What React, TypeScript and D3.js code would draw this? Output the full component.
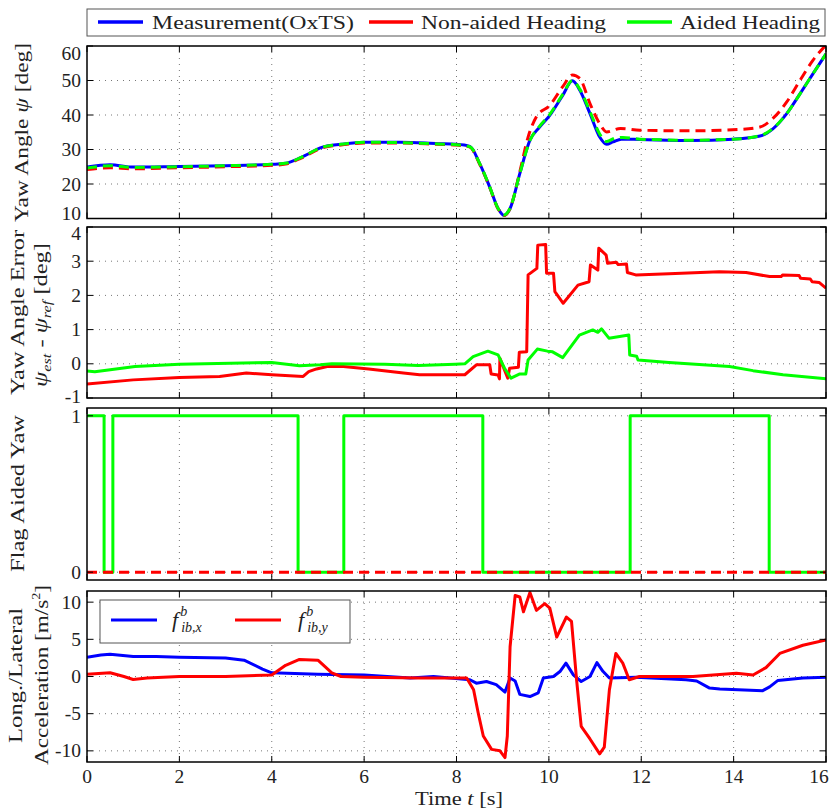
import React from 'react';
import * as d3 from 'd3';

type P = [number, number];

// ---------- data ----------
const X_TICKS = [0, 2, 4, 6, 8, 10, 12, 14, 16];
const YAW_TICKS = [10, 20, 30, 40, 50, 60];
const ERR_TICKS = [-1, 0, 1, 2, 3, 4];
const FLAG_TICKS = [0, 1];
const ACC_TICKS = [-10, -5, 0, 5, 10];

const yawMeas: P[] = [[0,24.9],[0.5,25.6],[1,24.9],[2,25.1],[3,25.3],[4,25.7],[4.3,26],[4.65,27.8],[5.1,30.7],[5.5,31.5],[6,32.1],[6.8,32.1],[7.6,31.7],[8,31.5],[8.29,30.9],[8.5,26],[8.72,19.1],[8.9,12.9],[9.03,10.9],[9.16,12.9],[9.37,23],[9.59,32.7],[9.8,36.5],[10.02,39.9],[10.3,45.7],[10.51,49.9],[10.67,47.2],[10.89,40.4],[11.1,33.6],[11.25,31.5],[11.39,32.2],[11.57,33],[11.97,32.9],[13.05,32.6],[14,33],[14.57,33.9],[14.85,36],[15.15,40.4],[15.44,46.2],[15.72,52],[16,57.7]];
const yawNonAided: P[] = [[0,24.2],[0.5,24.7],[1,24.4],[2,24.7],[3,25],[4,25.4],[4.3,25.8],[4.65,27.6],[5.1,30.5],[5.5,31.3],[6,31.9],[6.8,31.9],[7.6,31.5],[8,31.3],[8.29,30.7],[8.5,25.8],[8.72,19],[8.9,12.8],[9.03,10.9],[9.16,12.9],[9.37,23.5],[9.55,33.6],[9.73,39.5],[10.02,42.8],[10.3,48.2],[10.51,51.6],[10.67,50.6],[10.89,43.3],[11.1,37.5],[11.25,35.1],[11.55,36.1],[11.97,35.6],[13.05,35.4],[14.13,35.8],[14.57,36.5],[14.85,39],[15.15,43.8],[15.44,50.1],[15.72,55.9],[16,60.3]];
const yawAided: P[] = [[0,24.6],[0.5,25.3],[1,24.8],[2,25],[3,25.3],[4,25.7],[4.3,26],[4.65,27.8],[5.1,30.7],[5.5,31.5],[6,32.1],[6.8,32],[7.6,31.6],[8,31.4],[8.29,30.8],[8.5,26],[8.72,19.1],[8.9,12.9],[9.03,11],[9.16,13],[9.37,23],[9.59,32.6],[9.8,36.8],[10.02,40.2],[10.3,46],[10.51,50],[10.67,47.5],[10.89,41],[11.1,34.5],[11.25,32.3],[11.45,33.4],[11.6,33.5],[11.97,33],[13.05,32.7],[14,33],[14.57,34],[14.85,36.1],[15.15,40.4],[15.44,46.2],[15.72,52],[16,57.7]];

const errNonAided: P[] = [[0,-0.59],[1,-0.47],[2,-0.4],[2.87,-0.37],[3.45,-0.27],[4,-0.32],[4.68,-0.37],[4.8,-0.23],[4.97,-0.15],[5.2,-0.08],[5.55,-0.08],[6.1,-0.15],[6.85,-0.27],[7.2,-0.32],[8.18,-0.32],[8.43,-0.03],[8.72,-0.03],[8.75,-0.3],[8.9,-0.33],[8.93,-0.44],[8.94,0.16],[9.11,-0.42],[9.15,-0.13],[9.34,-0.1],[9.36,0.34],[9.52,0.35],[9.55,2.6],[9.74,2.79],[9.76,3.47],[9.93,3.49],[9.95,2.65],[10.1,2.65],[10.13,2.11],[10.31,1.77],[10.63,2.3],[10.87,2.4],[10.9,2.89],[11.06,2.74],[11.08,3.38],[11.24,3.18],[11.27,2.94],[11.46,2.97],[11.5,2.9],[11.68,2.92],[11.7,2.67],[11.88,2.6],[12.6,2.63],[13.69,2.69],[14.27,2.67],[14.78,2.55],[15.03,2.55],[15.06,2.6],[15.42,2.58],[15.45,2.5],[15.66,2.48],[15.7,2.4],[15.85,2.38],[16,2.21]];
const errAided: P[] = [[0,-0.21],[0.17,-0.23],[1.04,-0.08],[2,-0.01],[4,0.04],[4.6,-0.06],[5.05,-0.03],[5.3,0],[6.45,-0.01],[7.17,-0.05],[7.97,-0.01],[8.18,0],[8.36,0.21],[8.68,0.37],[8.9,0.26],[9.04,-0.13],[9.18,-0.42],[9.36,-0.3],[9.5,-0.3],[9.55,0.11],[9.75,0.43],[9.97,0.37],[10.08,0.35],[10.3,0.18],[10.66,0.84],[10.95,0.99],[11.06,0.92],[11.14,1.02],[11.3,0.75],[11.73,0.84],[11.75,0.26],[11.9,0.22],[11.93,0.11],[12.6,0.04],[13.91,-0.08],[14.42,-0.2],[15.07,-0.32],[16,-0.44]];

const flagAided: P[] = [[0,1],[0.37,0],[0.56,1],[4.57,0],[5.56,1],[8.57,0],[11.76,1],[14.77,0],[16,0]];
const flagNonAided: P[] = [[0,0],[16,0]];

const accX: P[] = [[0,2.6],[0.3,2.9],[0.5,3],[1,2.7],[1.5,2.7],[2,2.6],[3,2.5],[3.4,2.2],[3.8,1.0],[4.0,0.5],[5,0.3],[6,0.2],[7,-0.2],[7.5,0],[8.29,-0.44],[8.43,-0.9],[8.65,-0.67],[8.86,-1.1],[9.05,-2.1],[9.16,-0.2],[9.27,-0.6],[9.37,-2.4],[9.59,-2.7],[9.77,-2.2],[9.88,-0.2],[10.1,0],[10.24,0.67],[10.37,1.8],[10.53,0.22],[10.7,-0.67],[10.89,0],[11.04,1.87],[11.17,0.7],[11.31,-0.2],[11.89,-0.1],[12.97,-0.44],[13.2,-0.6],[13.48,-1.56],[13.7,-1.69],[14.63,-1.9],[14.78,-1.4],[14.96,-0.53],[15.5,-0.2],[16,-0.1]];
const accY: P[] = [[0,0.3],[0.5,0.5],[0.8,0],[1,-0.4],[1.3,-0.2],[2,0],[3,0],[4,0.2],[4.3,1.5],[4.6,2.3],[5.0,2.2],[5.3,0.5],[5.5,0],[6,-0.1],[7.21,-0.2],[8.22,-0.2],[8.37,-1.78],[8.47,-4.9],[8.58,-8],[8.76,-9.8],[8.94,-10],[9.05,-10.9],[9.1,-8],[9.16,4],[9.27,10.9],[9.37,10.7],[9.45,8.7],[9.59,11.3],[9.73,8.9],[9.91,9.8],[10.02,9.2],[10.17,5.3],[10.38,8],[10.49,7.4],[10.6,-0.44],[10.7,-6.7],[10.89,-8.4],[11.1,-10.4],[11.2,-9.5],[11.31,-1.8],[11.45,3.1],[11.6,1.8],[11.74,-0.44],[11.96,0],[13.12,0],[14.06,0.44],[14.42,0.2],[14.7,1.2],[15,3.1],[15.5,4.2],[16,4.9]];

// ---------- layout ----------
const W = 829, H = 811;
const PL = 87, PR = 826;
const FONT = "'Liberation Serif', 'Times New Roman', serif";
const FS = 19.5;
const BLUE = '#0000ff', RED = '#ff0000', GREEN = '#00ff00';

type Series = { data: P[]; color: string; dash?: string; width?: number };
type PanelCfg = {
  id: string; top: number; bottom: number; domain: [number, number]; ticks: number[];
  nudge: Record<number, number>; curve: d3.CurveFactory; series: Series[];
};

export default function App() {
  const x = d3.scaleLinear().domain([0, 16]).range([PL, PR]);

  const panels: PanelCfg[] = [
    { id: 'p1', top: 46, bottom: 218.5, domain: [10, 60], ticks: YAW_TICKS, nudge: { 60: 7, 10: -5 }, curve: d3.curveMonotoneX,
      series: [
        { data: yawMeas, color: BLUE },
        { data: yawNonAided, color: RED, dash: '10,6' },
        { data: yawAided, color: GREEN, dash: '10,6' },
      ] },
    { id: 'p2', top: 227, bottom: 398, domain: [-1, 4], ticks: ERR_TICKS, nudge: { 4: 6, [-1]: -2 }, curve: d3.curveLinear,
      series: [
        { data: errNonAided, color: RED },
        { data: errAided, color: GREEN },
      ] },
    { id: 'p3', top: 408, bottom: 580, domain: [-0.05, 1.05], ticks: FLAG_TICKS, nudge: { 1: 1 }, curve: d3.curveStepAfter,
      series: [
        { data: flagAided, color: GREEN },
        { data: flagNonAided, color: RED, dash: '10,6' },
      ] },
    { id: 'p4', top: 591, bottom: 762, domain: [-11.5, 11.5], ticks: ACC_TICKS, nudge: {}, curve: d3.curveLinear,
      series: [
        { data: accX, color: BLUE },
        { data: accY, color: RED },
      ] },
  ];

  const tickLen = 6;

  return (
    <svg width={W} height={H} style={{ position: 'absolute', left: 0, top: 0 }} fontFamily={FONT}>
      <rect x={0} y={0} width={W} height={H} fill="#fff" />
      <defs>
        {panels.map(p => (
          <clipPath id={`clip-${p.id}`} key={p.id}>
            <rect x={PL} y={p.top} width={PR - PL} height={p.bottom - p.top} />
          </clipPath>
        ))}
      </defs>

      {panels.map(p => {
        const y = d3.scaleLinear().domain(p.domain).range([p.bottom, p.top]);
        const line = d3.line<P>().x(d => x(d[0])).y(d => y(d[1])).curve(p.curve);
        return (
          <g key={p.id}>
            <g stroke="#777" strokeWidth={1} strokeDasharray="1,5">
              {X_TICKS.filter(t => t > 0 && t < 16).map(t => (
                <line key={'gx' + t} x1={x(t)} x2={x(t)} y1={p.top} y2={p.bottom} />
              ))}
              {p.ticks.filter(t => Math.abs(y(t) - p.top) > 1 && Math.abs(y(t) - p.bottom) > 1).map(t => (
                <line key={'gy' + t} x1={PL} x2={PR} y1={y(t)} y2={y(t)} />
              ))}
            </g>
            <g clipPath={`url(#clip-${p.id})`} fill="none" strokeLinejoin="round">
              {p.series.map((s, i) => (
                <path key={i} d={line(s.data) || ''} stroke={s.color} strokeWidth={s.width ?? 3}
                  strokeDasharray={s.dash} />
              ))}
            </g>
            <rect x={PL} y={p.top} width={PR - PL} height={p.bottom - p.top} fill="none" stroke="#000" strokeWidth={1.5} />
            <g stroke="#000" strokeWidth={1}>
              {X_TICKS.map(t => (
                <g key={'tx' + t}>
                  <line x1={x(t)} x2={x(t)} y1={p.top} y2={p.top + tickLen} />
                  <line x1={x(t)} x2={x(t)} y1={p.bottom} y2={p.bottom - tickLen} />
                </g>
              ))}
              {p.ticks.map(t => (
                <g key={'ty' + t}>
                  <line x1={PL} x2={PL + tickLen} y1={y(t)} y2={y(t)} />
                  <line x1={PR} x2={PR - tickLen} y1={y(t)} y2={y(t)} />
                </g>
              ))}
            </g>
            <g fontSize={FS} fill="#222" textAnchor="end">
              {p.ticks.map(t => (
                <text key={'yl' + t} x={81} y={y(t) + 6.5 + (p.nudge[t] ?? 0)}>{String(t)}</text>
              ))}
            </g>
          </g>
        );
      })}

      <g fontSize={FS} fill="#222" textAnchor="middle">
        {X_TICKS.map(t => (
          <text key={'xl' + t} x={t === 16 ? x(t) - 7 : x(t)} y={783}>{String(t)}</text>
        ))}
      </g>
      <text x={459} y={805} fontSize={FS} fill="#222" textAnchor="middle" textLength={88} lengthAdjust="spacingAndGlyphs">
        Time <tspan fontStyle="italic">t</tspan> [s]
      </text>

      <g fontSize={FS} fill="#222" textAnchor="middle">
        <text transform="translate(28,132.5) rotate(-90)" textLength={179} lengthAdjust="spacingAndGlyphs">
          Yaw Angle <tspan fontStyle="italic">ψ</tspan> [deg]
        </text>
        <text transform="translate(23.5,312.5) rotate(-90)" textLength={165} lengthAdjust="spacingAndGlyphs">
          Yaw Angle Error
        </text>
        <text transform="translate(47,315) rotate(-90)" textLength={144} lengthAdjust="spacingAndGlyphs">
          <tspan fontStyle="italic">ψ</tspan>
          <tspan fontStyle="italic" fontSize={13} dy={4}>est</tspan>
          <tspan dy={-4}> - </tspan>
          <tspan fontStyle="italic">ψ</tspan>
          <tspan fontStyle="italic" fontSize={13} dy={4}>ref</tspan>
          <tspan dy={-4}> [deg]</tspan>
        </text>
        <text transform="translate(23.5,493.5) rotate(-90)" textLength={157} lengthAdjust="spacingAndGlyphs">
          Flag Aided Yaw
        </text>
        <text transform="translate(21.5,675.5) rotate(-90)" textLength={135} lengthAdjust="spacingAndGlyphs">
          Long./Lateral
        </text>
        <text transform="translate(47.5,675) rotate(-90)" textLength={180} lengthAdjust="spacingAndGlyphs">
          Acceleration [m/s<tspan fontSize={12} dy={-8}>2</tspan><tspan dy={8}>]</tspan>
        </text>
      </g>

      <g>
        <rect x={87} y={9} width={738} height={27} fill="#fff" stroke="#555" strokeWidth={1} />
        <line x1={98} x2={143} y1={22} y2={22} stroke={BLUE} strokeWidth={3.5} />
        <text x={152} y={28.5} fontSize={FS} fill="#222" textLength={202} lengthAdjust="spacingAndGlyphs">Measurement(OxTS)</text>
        <line x1={369} x2={413} y1={22} y2={22} stroke={RED} strokeWidth={3.5} />
        <text x={421} y={28.5} fontSize={FS} fill="#222" textLength={185} lengthAdjust="spacingAndGlyphs">Non-aided Heading</text>
        <line x1={627} x2={672} y1={22} y2={22} stroke={GREEN} strokeWidth={3.5} />
        <text x={680} y={28.5} fontSize={FS} fill="#222" textLength={140} lengthAdjust="spacingAndGlyphs">Aided Heading</text>
      </g>

      <g>
        <rect x={100} y={600} width={250} height={43} fill="#fff" stroke="#555" strokeWidth={1} />
        <line x1={111} x2={157} y1={620} y2={620} stroke={BLUE} strokeWidth={3} />
        <text x={172} y={627} fontSize={22} fill="#222" fontStyle="italic">
          f<tspan fontSize={14} dx={2} dy={-11}>b</tspan><tspan fontSize={14} dx={-6} dy={16}>ib,x</tspan>
        </text>
        <line x1={235} x2={281} y1={620} y2={620} stroke={RED} strokeWidth={3} />
        <text x={298} y={627} fontSize={22} fill="#222" fontStyle="italic">
          f<tspan fontSize={14} dx={2} dy={-11}>b</tspan><tspan fontSize={14} dx={-6} dy={16}>ib,y</tspan>
        </text>
      </g>
    </svg>
  );
}
